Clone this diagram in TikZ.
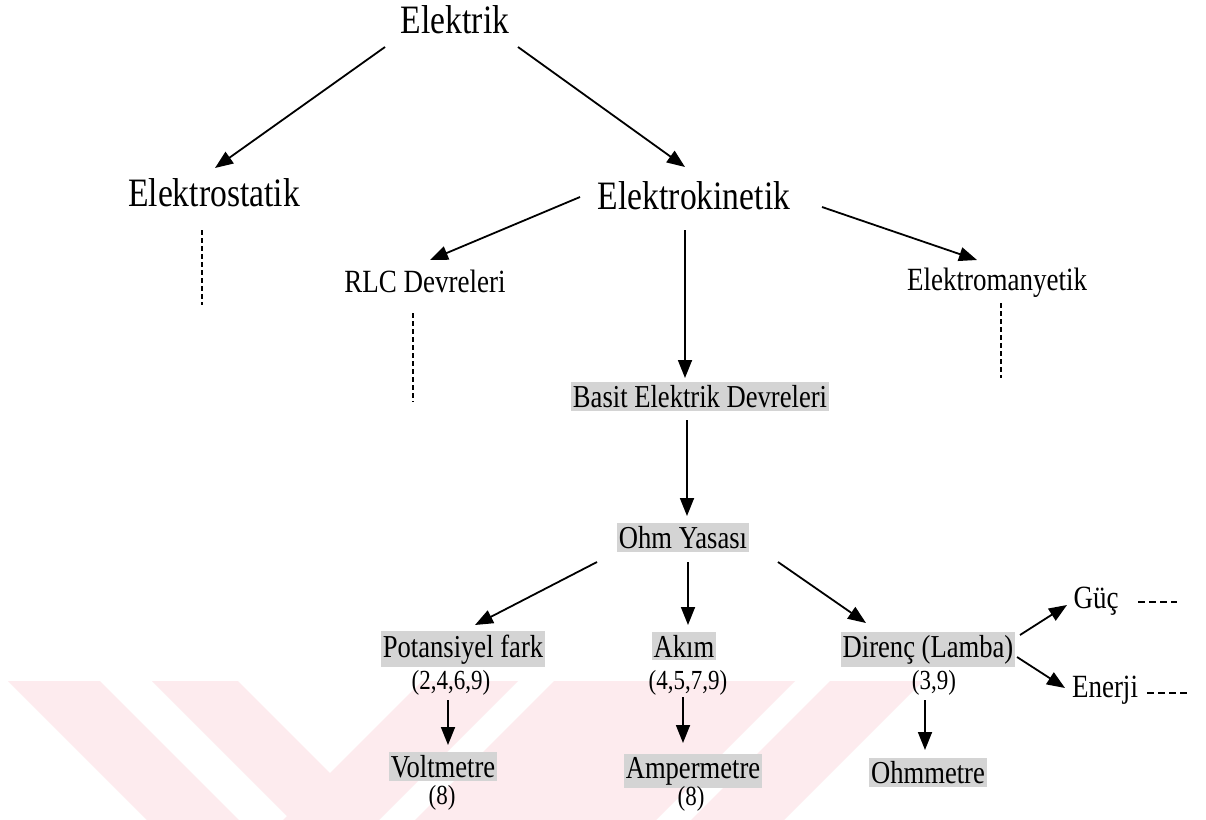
\documentclass[tikz,border=0pt]{standalone}
\usepackage{fontspec}
\usepackage{graphicx}
\setmainfont{Liberation Serif}
\usetikzlibrary{calc,arrows.meta}
\definecolor{wm}{RGB}{253,235,238}
\definecolor{hlgray}{RGB}{212,212,212}
\newcommand{\vst}[1]{\scalebox{1}[1.2]{#1}}
\begin{document}
\begin{tikzpicture}[x=0.5pt,y=-0.5pt,
  big/.style={font=\fontsize{16.8}{19}\selectfont, anchor=base, inner sep=0pt},
  mid/.style={font=\fontsize{13.5}{16}\selectfont, anchor=base, inner sep=0pt},
  low/.style={font=\fontsize{13.3}{16}\selectfont, anchor=base, inner xsep=1pt, inner ysep=1.6pt},
  num/.style={font=\fontsize{11.5}{14}\selectfont, anchor=base, inner sep=0pt},
  hl/.style={fill=hlgray},
  arr/.style={line width=0.9pt, -{Triangle[length=9pt,width=7pt]}},
  dsh/.style={line width=1pt, dash pattern=on 2.5pt off 1.5pt},
  dshh/.style={line width=1pt, dash pattern=on 3.5pt off 2pt}]
\useasboundingbox (0,0) rectangle (1206,820);
\fill[white] (0,0) rectangle (1206,820);
% watermark
\begin{scope}
\clip (0,681) rectangle (1206,820);
\fill[wm] (8,681) -- (100,681) -- (239,820) -- (147,820) -- cycle;
\fill[wm] (152,681) -- (238,681) -- (377,820) -- (291,820) -- cycle;
\fill[wm] (422,681) -- (518,681) -- (379,820) -- (283,820) -- cycle;
\fill[wm] (554,681) -- (795,681) -- (656,820) -- (415,820) -- cycle;
\fill[wm] (830,681) -- (923,681) -- (784,820) -- (691,820) -- cycle;
\end{scope}
% nodes
\node[big] (elk) at (455,33) {\vst{Elektrik}};
\node[big] (est) at (214,206) {\vst{Elektrostatik}};
\node[big] (ekin) at (694,209) {\vst{Elektrokinetik}};
\node[mid] (rlc) at (425,292) {\vst{RLC Devreleri}};
\node[mid] (emag) at (997,290) {\vst{Elektromanyetik}};
\node[low,hl] (basit) at (700,407) {\vst{Basit Elektrik Devreleri}};
\node[low,hl] (ohm) at (683,548) {\vst{Ohm Yasası}};
\node[low,hl] (pot) at (463,657) {\vst{Potansiyel fark}};
\node[low,hl] (akim) at (684,657) {\vst{Akım}};
\node[low,hl] (dir) at (928,657) {\vst{Direnç (Lamba)}};
\node[num] (n1) at (451,689) {\vst{(2,4,6,9)}};
\node[num] (n2) at (688,689) {\vst{(4,5,7,9)}};
\node[num] (n3) at (934,689) {\vst{(3,9)}};
\node[low,hl] (volt) at (443,777) {\vst{Voltmetre}};
\node[low,hl] (amp) at (693,778) {\vst{Ampermetre}};
\node[low,hl] (ohmm) at (928,783) {\vst{Ohmmetre}};
\node[num] (v8) at (442,804) {\vst{(8)}};
\node[num] (a8) at (691,805) {\vst{(8)}};
\node[mid] (guc) at (1096,608) {\vst{Güç}};
\node[mid] (enerji) at (1105,697) {\vst{Enerji}};
% arrows
\draw[arr] ($(elk.base)+(-70,14)$) -- ($(est.base)+(1,-38)$);
\draw[arr] ($(elk.base)+(63,14)$) -- ($(ekin.base)+(-9,-42)$);
\draw[arr] ($(ekin.base)+(-114,-12)$) -- ($(rlc.base)+(5,-32)$);
\draw[arr] ($(ekin.base)+(128,-2)$) -- ($(emag.base)+(-20,-30)$);
\draw[arr] ($(ekin.base)+(-9,21)$) -- ($(basit.base)+(-15,-29)$);
\draw[arr] ($(basit.base)+(-13,13)$) -- ($(ohm.base)+(4,-32)$);
\draw[arr] ($(ohm.base)+(-86,14)$) -- ($(pot.base)+(12,-32)$);
\draw[arr] ($(ohm.base)+(5,14)$) -- ($(akim.base)+(4,-32)$);
\draw[arr] ($(ohm.base)+(95,14)$) -- ($(dir.base)+(-62,-34)$);
\draw[arr] ($(n1.base)+(-3,11)$) -- ($(volt.base)+(5,-32)$);
\draw[arr] ($(n2.base)+(-5,8)$) -- ($(amp.base)+(-10,-35)$);
\draw[arr] ($(n3.base)+(-9,11)$) -- ($(ohmm.base)+(-3,-33)$);
\draw[arr] ($(dir.base)+(92,-22)$) -- ($(guc.base)+(-29,-3)$);
\draw[arr] ($(dir.base)+(89,0)$) -- ($(enerji.base)+(-40,-9)$);
% dashed continuations
\draw[dsh] ($(est.base)+(-12,24)$) -- ($(est.base)+(-12,99)$);
\draw[dsh] ($(rlc.base)+(-12,21)$) -- ($(rlc.base)+(-12,110)$);
\draw[dsh] ($(emag.base)+(4,13)$) -- ($(emag.base)+(4,88)$);
\draw[dshh] ($(guc.base)+(42,-6)$) -- ($(guc.base)+(81,-6)$);
\draw[dshh] ($(enerji.base)+(42,-4)$) -- ($(enerji.base)+(82,-4)$);
\end{tikzpicture}
\end{document}
